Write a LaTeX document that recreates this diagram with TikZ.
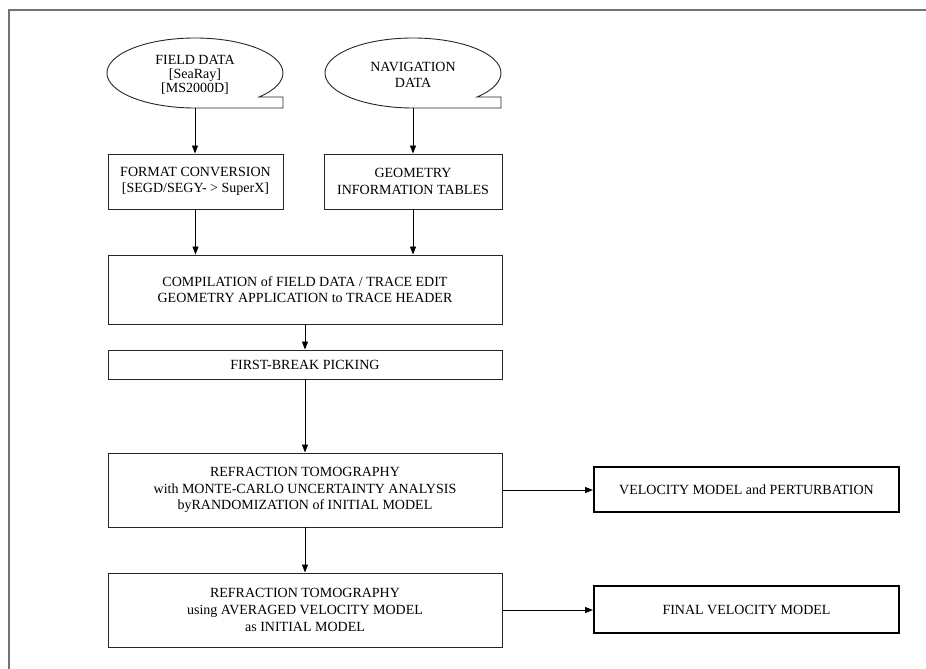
\documentclass[tikz,border=0pt]{standalone}
\usepackage{fontspec}
\setmainfont{Liberation Serif}
\usetikzlibrary{arrows.meta,shapes.geometric}
\begin{document}
\begin{tikzpicture}[x=1pt,y=1pt,
  txt/.style={align=center,font=\fontsize{14}{16.6}\selectfont},
  pbox/.style={txt,draw=black!85,line width=0.9pt,inner sep=0pt,rectangle},
  obox/.style={txt,draw=black,line width=2pt,inner sep=0pt,rectangle},
  tape/.style={txt,ellipse,inner sep=0pt,minimum width=176pt,minimum height=70pt},
  tapeline/.style={draw=black!85,line width=0.9pt},
  conn/.style={line width=0.9pt,-{Triangle[length=8pt,width=6pt]}}]
\useasboundingbox (0,0) rectangle (926,669);
% frame
\draw[gray!90!black,line width=2pt] (9,0) -- (9,659) -- (930,659);
% tape shapes
\node[tape,font=\fontsize{14}{13.8}\selectfont] (fd) at (195,594) {FIELD DATA\\{[SeaRay]}\\{[MS2000D]}};
\node[tape] (nav) at (413,594) {NAVIGATION\\DATA};
\foreach \n in {fd,nav}{
  \draw[tapeline] ([shift={(64,-22)}]\n.center) arc[start angle=-43.3,end angle=270,x radius=88,y radius=35]
    -- ([shift={(88,-33)}]\n.center) -- ([shift={(88,-22)}]\n.center) -- cycle;
}
% boxes
\node[pbox,minimum width=175pt,minimum height=55pt] (fc) at (195.5,487.5) {FORMAT CONVERSION\\{[SEGD/SEGY- > SuperX]}};
\node[pbox,minimum width=178pt,minimum height=55pt] (gi) at (413,487.5) {GEOMETRY\\INFORMATION TABLES};
\node[pbox,minimum width=394pt,minimum height=69pt] (comp) at (305,379.5) {COMPILATION of FIELD DATA / TRACE EDIT\\GEOMETRY APPLICATION to TRACE HEADER};
\node[pbox,minimum width=394pt,minimum height=29pt] (fb) at (305,304.5) {FIRST-BREAK PICKING};
\node[pbox,minimum width=394pt,minimum height=74pt] (r1) at (305,179) {REFRACTION TOMOGRAPHY\\with MONTE-CARLO UNCERTAINTY ANALYSIS\\byRANDOMIZATION of INITIAL MODEL};
\node[pbox,minimum width=394pt,minimum height=74pt] (r2) at (305,59) {REFRACTION TOMOGRAPHY\\using AVERAGED VELOCITY MODEL\\as INITIAL MODEL};
\node[obox,minimum width=305pt,minimum height=45pt] (vm) at (746.5,179.5) {VELOCITY MODEL and PERTURBATION};
\node[obox,minimum width=305pt,minimum height=47pt] (fv) at (746.5,59.5) {FINAL VELOCITY MODEL};
% connectors
\draw[conn] ([yshift=2pt]fd.south) -- (fc.north -| fd.south);
\draw[conn] ([yshift=2pt]nav.south) -- (gi.north -| nav.south);
\draw[conn] (fc.south) -- (comp.north -| fc.south);
\draw[conn] (gi.south) -- (comp.north -| gi.south);
\draw[conn] (comp.south) -- (fb.north);
\draw[conn] (fb.south) -- (r1.north);
\draw[conn] (r1.south) -- (r2.north);
\draw[conn] (r1.east) -- (vm.west |- r1.east);
\draw[conn] (r2.east) -- (fv.west |- r2.east);
\end{tikzpicture}
\end{document}
